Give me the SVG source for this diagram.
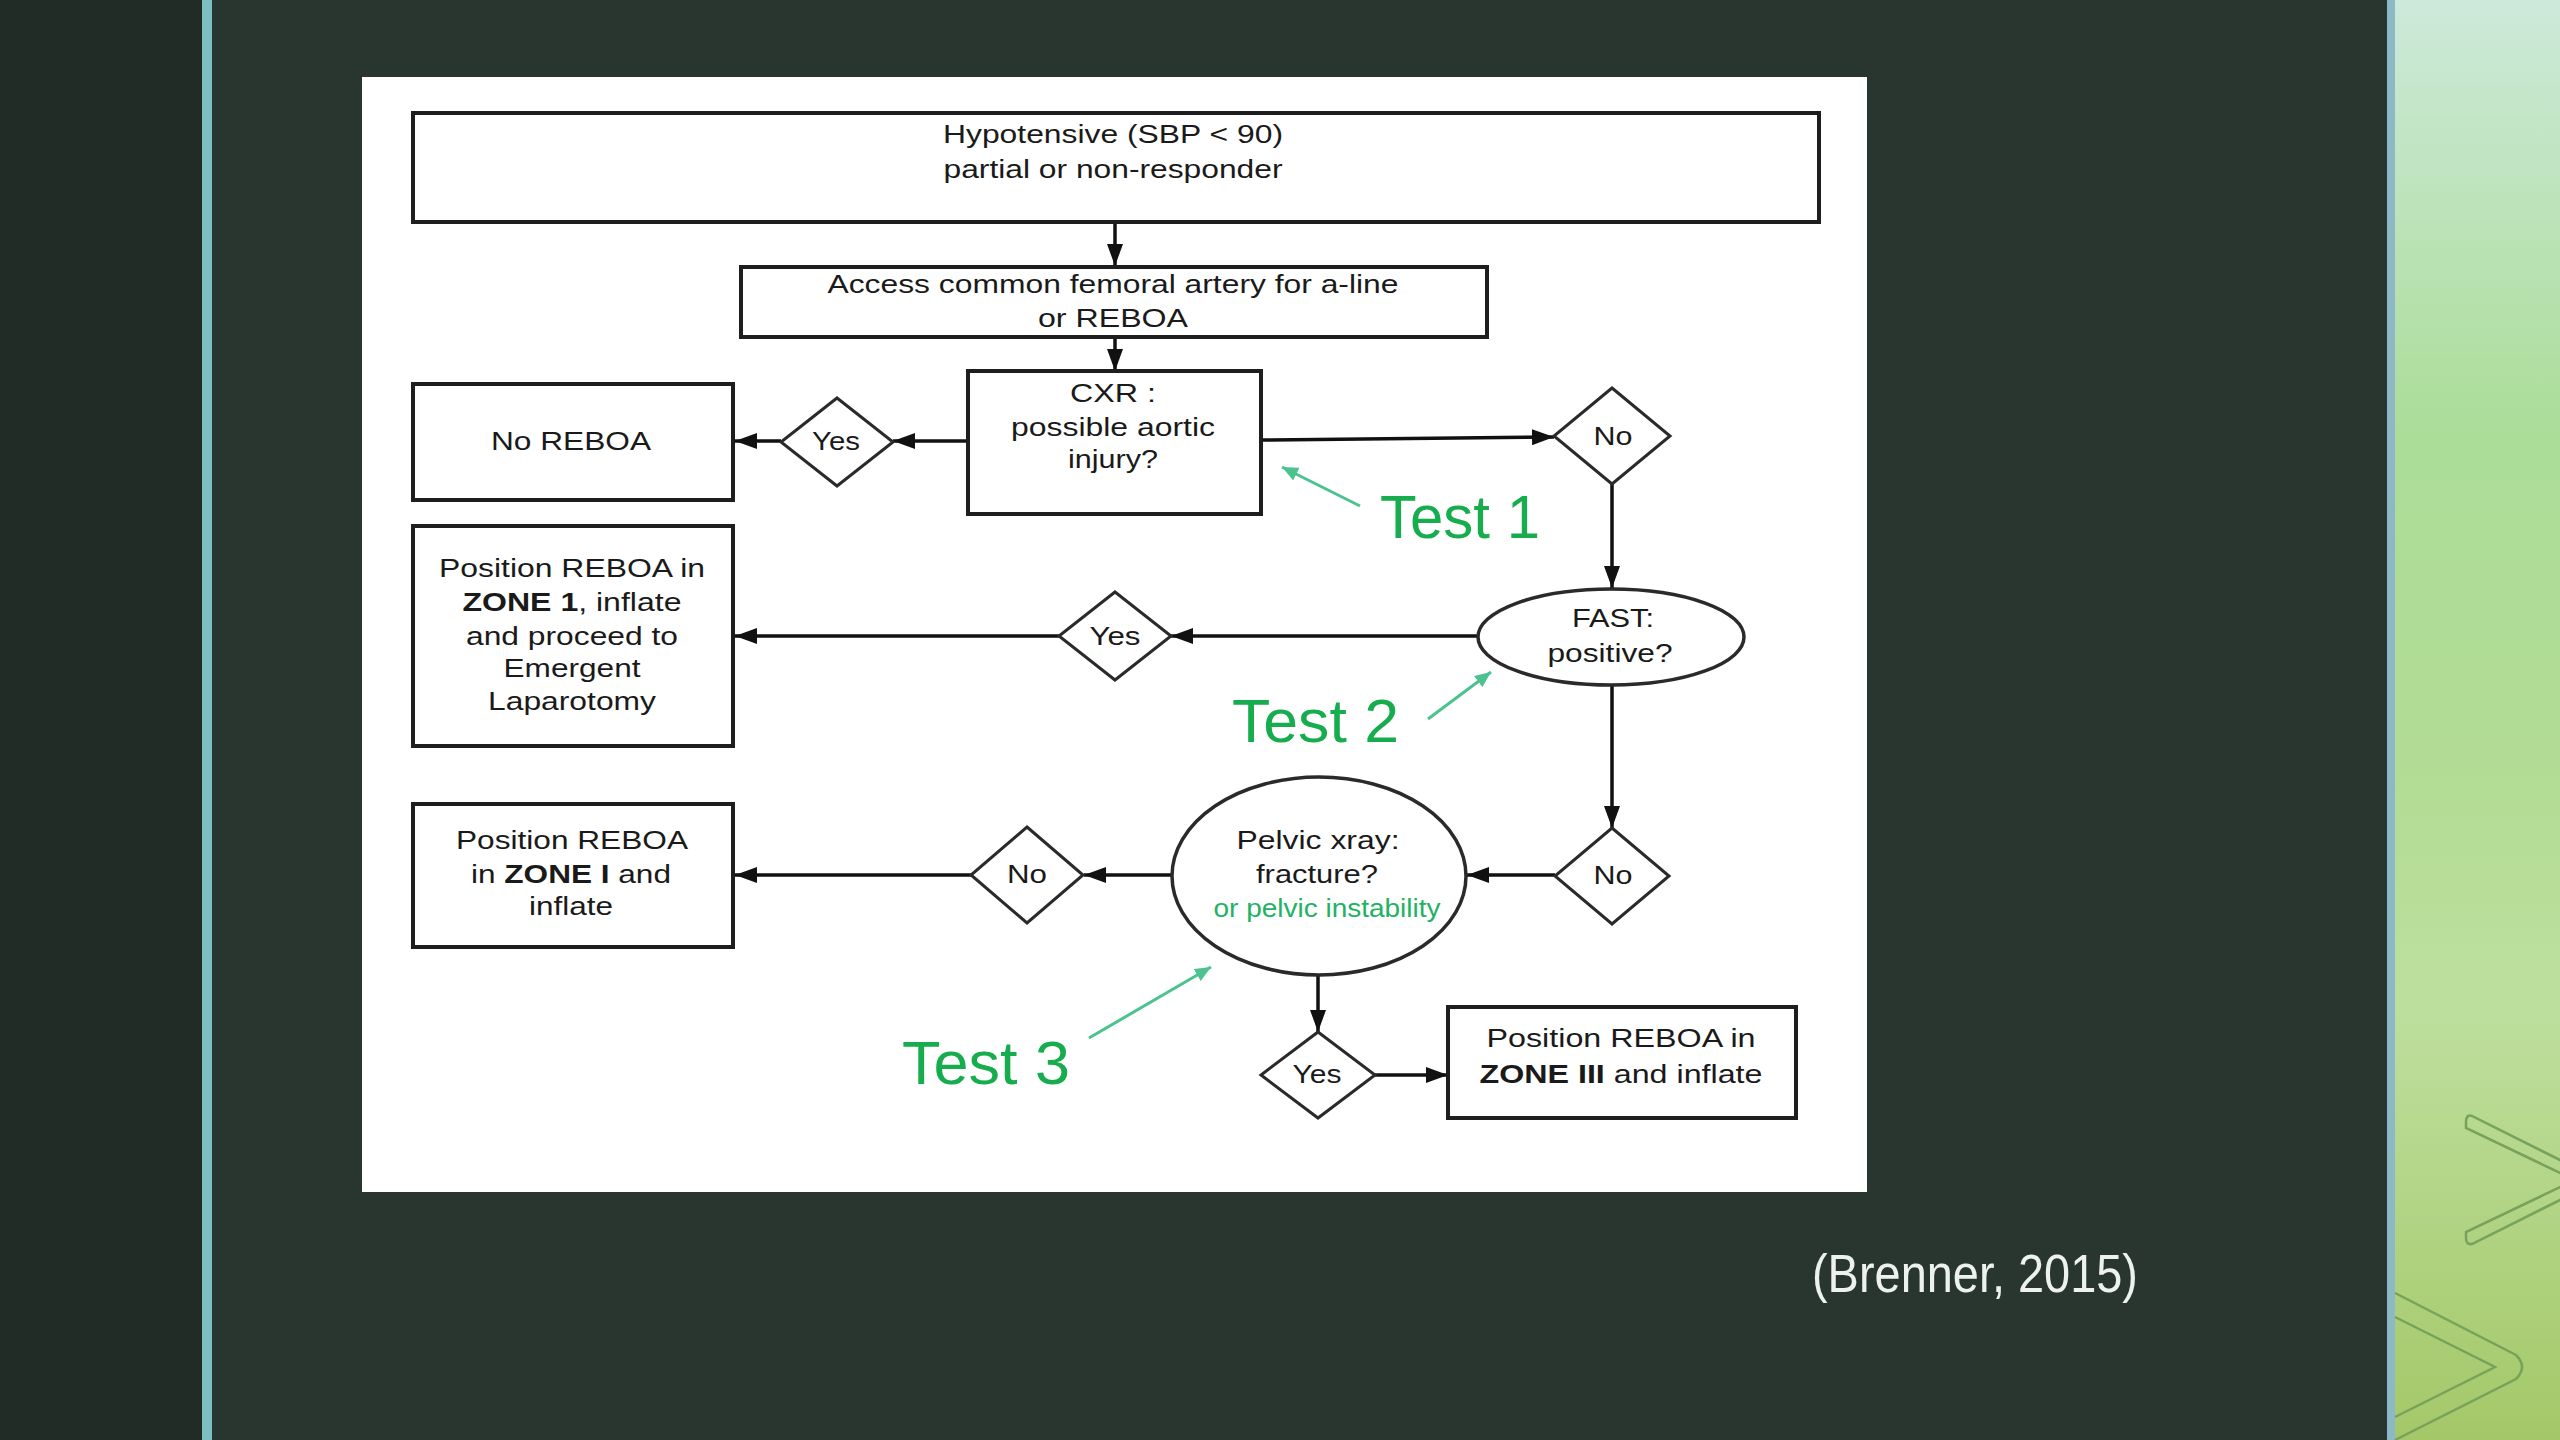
<svg xmlns="http://www.w3.org/2000/svg" width="2560" height="1440" viewBox="0 0 2560 1440">
<defs>
<linearGradient id="gp" x1="0" y1="0" x2="0" y2="1">
<stop offset="0" stop-color="#cde9da"/>
<stop offset="0.3" stop-color="#abdd98"/>
<stop offset="0.55" stop-color="#b3dc95"/>
<stop offset="0.7" stop-color="#bddf9e"/>
<stop offset="1" stop-color="#a4c868"/>
</linearGradient>
<marker id="ah" viewBox="0 0 22 16" refX="22" refY="8" markerWidth="22" markerHeight="16" markerUnits="userSpaceOnUse" orient="auto">
<path d="M0,0 L22,8 L0,16 Z" fill="#111"/>
</marker>
<marker id="gh" viewBox="0 0 16 14" refX="16" refY="7" markerWidth="16" markerHeight="14" markerUnits="userSpaceOnUse" orient="auto">
<path d="M0,0 L16,7 L0,14 Z" fill="#4cc38f"/>
</marker>
<style>
.box{fill:#fff;stroke:#1e1e1e;stroke-width:4}
.dia{fill:#fff;stroke:#2a2a2a;stroke-width:3}
.ell{fill:#fff;stroke:#2a2a2a;stroke-width:3.5}
.t{font-family:"Liberation Sans",Arial,sans-serif;font-size:26px;fill:#1a1a1a;text-anchor:middle}
.b{font-weight:bold}
.con{stroke:#111;stroke-width:3.5;fill:none;marker-end:url(#ah)}
.ann{stroke:#4cc38f;stroke-width:3;fill:none;marker-end:url(#gh)}
.test{font-family:"Liberation Sans",Arial,sans-serif;font-size:62px;fill:#17ad4f}
.gt{font-family:"Liberation Sans",Arial,sans-serif;font-size:25px;fill:#22b263;text-anchor:middle}
.cite{font-family:"Liberation Sans",Arial,sans-serif;font-size:53px;fill:#eef2ee}
</style>
</defs>
<rect x="0" y="0" width="2560" height="1440" fill="#28362f"/>
<rect x="0" y="0" width="202" height="1440" fill="#212c27"/>
<rect x="202" y="0" width="10" height="1440" fill="#7cc0c2"/>
<rect x="2387" y="0" width="173" height="1440" fill="url(#gp)"/>
<rect x="2387" y="0" width="8" height="1440" fill="#8db9c6"/>
<path d="M2472,1116 L2600,1180 L2472,1244 Q2466,1245 2466,1238 L2466,1232 L2575,1180 L2466,1128 L2466,1122 Q2466,1114 2472,1116 Z" fill="none" stroke="#78a25c" stroke-width="2.5"/>
<path d="M2395,1293 L2516,1355 Q2528,1367 2516,1379 L2395,1440 M2395,1317 L2495,1367 L2395,1417" fill="none" stroke="#78a25c" stroke-width="2.5"/>
<rect x="362" y="77" width="1505" height="1115" fill="#ffffff"/>

<g id="connectors">
<path class="con" d="M1115,222 L1115,266"/>
<path class="con" d="M1115,337 L1115,371"/>
<path class="con" d="M968,441 L893,441"/>
<path class="con" d="M781,441 L735,441"/>
<path class="con" d="M1261,440 L1554,437"/>
<path class="con" d="M1612,484 L1612,588"/>
<path class="con" d="M1478,636 L1171,636"/>
<path class="con" d="M1059,636 L735,636"/>
<path class="con" d="M1612,685 L1612,828"/>
<path class="con" d="M1555,875 L1467,875"/>
<path class="con" d="M1172,875 L1084,875"/>
<path class="con" d="M971,875 L735,875"/>
<path class="con" d="M1318,975 L1318,1032"/>
<path class="con" d="M1375,1075 L1448,1075"/>
</g>

<g id="n-hypotensive">
<rect class="box" x="413" y="113" width="1406" height="109"/>
<text class="t" x="1113" y="143" textLength="340" lengthAdjust="spacingAndGlyphs">Hypotensive (SBP &lt; 90)</text>
<text class="t" x="1113" y="178" textLength="339" lengthAdjust="spacingAndGlyphs">partial or non-responder</text>
</g>
<g id="n-access">
<rect class="box" x="741" y="267" width="746" height="70"/>
<text class="t" x="1113" y="293" textLength="571" lengthAdjust="spacingAndGlyphs">Access common femoral artery for a-line</text>
<text class="t" x="1113" y="327" textLength="150" lengthAdjust="spacingAndGlyphs">or REBOA</text>
</g>
<g id="n-cxr">
<rect class="box" x="968" y="371" width="293" height="143"/>
<text class="t" x="1113" y="402" textLength="86" lengthAdjust="spacingAndGlyphs">CXR :</text>
<text class="t" x="1113" y="436" textLength="204" lengthAdjust="spacingAndGlyphs">possible aortic</text>
<text class="t" x="1113" y="468" textLength="90" lengthAdjust="spacingAndGlyphs">injury?</text>
</g>
<g id="n-noreboa">
<rect class="box" x="413" y="384" width="320" height="116"/>
<text class="t" x="571" y="450" textLength="160" lengthAdjust="spacingAndGlyphs">No REBOA</text>
</g>
<g id="n-yes1">
<polygon class="dia" points="837,398 893,442 837,486 781,442"/>
<text class="t" x="836" y="450" textLength="48" lengthAdjust="spacingAndGlyphs">Yes</text>
</g>
<g id="n-no1">
<polygon class="dia" points="1612,388 1670,436 1612,484 1554,436"/>
<text class="t" x="1613" y="445" textLength="39" lengthAdjust="spacingAndGlyphs">No</text>
</g>
<g id="n-fast">
<ellipse class="ell" cx="1611" cy="637" rx="133" ry="48"/>
<text class="t" x="1613" y="627" textLength="82" lengthAdjust="spacingAndGlyphs">FAST:</text>
<text class="t" x="1610" y="662" textLength="125" lengthAdjust="spacingAndGlyphs">positive?</text>
</g>
<g id="n-yes2">
<polygon class="dia" points="1115,592 1171,636 1115,680 1059,636"/>
<text class="t" x="1115" y="645" textLength="51" lengthAdjust="spacingAndGlyphs">Yes</text>
</g>
<g id="n-zone1">
<rect class="box" x="413" y="526" width="320" height="220"/>
<text class="t" x="572" y="577" textLength="266" lengthAdjust="spacingAndGlyphs">Position REBOA in</text>
<text class="t" x="572" y="611" textLength="219" lengthAdjust="spacingAndGlyphs"><tspan class="b">ZONE 1</tspan>, inflate</text>
<text class="t" x="572" y="645" textLength="212" lengthAdjust="spacingAndGlyphs">and proceed to</text>
<text class="t" x="572" y="677" textLength="137" lengthAdjust="spacingAndGlyphs">Emergent</text>
<text class="t" x="572" y="710" textLength="168" lengthAdjust="spacingAndGlyphs">Laparotomy</text>
</g>
<g id="n-no2">
<polygon class="dia" points="1612,828 1669,876 1612,924 1555,876"/>
<text class="t" x="1613" y="884" textLength="39" lengthAdjust="spacingAndGlyphs">No</text>
</g>
<g id="n-pelvic">
<ellipse class="ell" cx="1319" cy="876" rx="147" ry="99"/>
<text class="t" x="1318" y="849" textLength="163" lengthAdjust="spacingAndGlyphs">Pelvic xray:</text>
<text class="t" x="1317" y="883" textLength="122" lengthAdjust="spacingAndGlyphs">fracture?</text>
<text class="gt" x="1327" y="917" textLength="227" lengthAdjust="spacingAndGlyphs">or pelvic instability</text>
</g>
<g id="n-no3">
<polygon class="dia" points="1027,827 1083,875 1027,923 971,875"/>
<text class="t" x="1027" y="883" textLength="40" lengthAdjust="spacingAndGlyphs">No</text>
</g>
<g id="n-zoneI">
<rect class="box" x="413" y="804" width="320" height="143"/>
<text class="t" x="572" y="849" textLength="232" lengthAdjust="spacingAndGlyphs">Position REBOA</text>
<text class="t" x="571" y="883" textLength="200" lengthAdjust="spacingAndGlyphs">in <tspan class="b">ZONE I</tspan> and</text>
<text class="t" x="571" y="915" textLength="84" lengthAdjust="spacingAndGlyphs">inflate</text>
</g>
<g id="n-yes3">
<polygon class="dia" points="1318,1032 1375,1075 1318,1118 1261,1075"/>
<text class="t" x="1317" y="1083" textLength="49" lengthAdjust="spacingAndGlyphs">Yes</text>
</g>
<g id="n-zoneIII">
<rect class="box" x="1448" y="1007" width="348" height="111"/>
<text class="t" x="1621" y="1047" textLength="269" lengthAdjust="spacingAndGlyphs">Position REBOA in</text>
<text class="t" x="1621" y="1083" textLength="283" lengthAdjust="spacingAndGlyphs"><tspan class="b">ZONE III</tspan> and inflate</text>
</g>

<g id="annotations">
<path class="ann" d="M1360,506 L1282,467"/>
<path class="ann" d="M1428,719 L1491,672"/>
<path class="ann" d="M1089,1038 L1211,967"/>
<text class="test" x="1380" y="538" textLength="160" lengthAdjust="spacingAndGlyphs">Test 1</text>
<text class="test" x="1232" y="742" textLength="167" lengthAdjust="spacingAndGlyphs">Test 2</text>
<text class="test" x="902" y="1084" textLength="168" lengthAdjust="spacingAndGlyphs">Test 3</text>
</g>
<text class="cite" x="1812" y="1292" textLength="326" lengthAdjust="spacingAndGlyphs">(Brenner, 2015)</text>
</svg>
